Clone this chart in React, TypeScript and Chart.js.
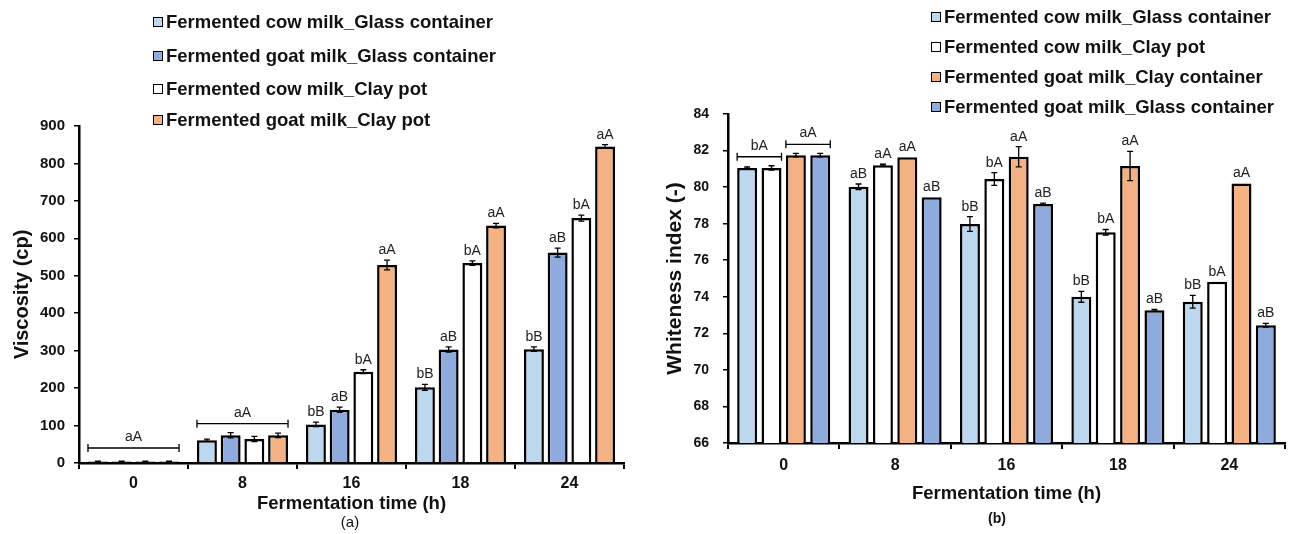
import React, { useEffect, useRef } from 'react';
import { Chart, registerables } from 'chart.js';

Chart.register(...registerables);

// ---------- Shared categories ----------
const categories = ['0', '8', '16', '18', '24'];

// ---------- Panel (a): Viscosity (cp) ----------
const viscSeriesNames = [
  'Fermented cow milk_Glass container',
  'Fermented goat milk_Glass container',
  'Fermented cow milk_Clay pot',
  'Fermented goat milk_Clay pot',
];
const viscCowGlass = [4, 61, 103, 202, 304];
const viscGoatGlass = [4, 74, 142, 303, 562];
const viscCowClay = [4, 64, 244, 534, 654];
const viscGoatClay = [4, 74, 529, 634, 845];

const viscCowGlassErr = [1, 3, 6, 8, 6];
const viscGoatGlassErr = [1, 7, 7, 7, 12];
const viscCowClayErr = [1, 7, 5, 6, 8];
const viscGoatClayErr = [1, 6, 13, 6, 5];

const viscCowGlassLbl = [null, null, 'bB', 'bB', 'bB'];
const viscGoatGlassLbl = [null, null, 'aB', 'aB', 'aB'];
const viscCowClayLbl = [null, null, 'bA', 'bA', 'bA'];
const viscGoatClayLbl = [null, null, 'aA', 'aA', 'aA'];

const viscBrackets = [
  { cat: 0, from: 0, to: 3, label: 'aA' },
  { cat: 1, from: 0, to: 3, label: 'aA' },
];
const viscMin = 0;
const viscMax = 900;
const viscStep = 100;

// ---------- Panel (b): Whiteness index (-) ----------
const whiteSeriesNames = [
  'Fermented cow milk_Glass container',
  'Fermented cow milk_Clay pot',
  'Fermented goat milk_Clay container',
  'Fermented goat milk_Glass container',
];
const whiteCowGlass = [81.05, 80.02, 77.98, 74.0, 73.73];
const whiteCowClay = [81.05, 81.2, 80.44, 77.53, 74.82];
const whiteGoatClay = [81.75, 81.63, 81.66, 81.15, 80.2];
const whiteGoatGlass = [81.75, 79.44, 79.07, 73.26, 72.44];

const whiteCowGlassErr = [0.05, 0.15, 0.4, 0.3, 0.35];
const whiteCowClayErr = [0.12, 0.05, 0.35, 0.15, 0];
const whiteGoatClayErr = [0.1, 0, 0.55, 0.8, 0];
const whiteGoatGlassErr = [0.1, 0, 0.05, 0.05, 0.1];

const whiteCowGlassLbl = [null, 'aB', 'bB', 'bB', 'bB'];
const whiteCowClayLbl = [null, 'aA', 'bA', 'bA', 'bA'];
const whiteGoatClayLbl = [null, 'aA', 'aA', 'aA', 'aA'];
const whiteGoatGlassLbl = [null, 'aB', 'aB', 'aB', 'aB'];

const whiteBrackets = [
  { cat: 0, from: 0, to: 1, label: 'bA' },
  { cat: 0, from: 2, to: 3, label: 'aA' },
];
const whiteMin = 66;
const whiteMax = 84;
const whiteStep = 2;

// ---------- Styles ----------
const FONT = "'Liberation Sans', Arial, Helvetica, sans-serif";
const LIGHT_BLUE = '#BDD7EE';
const DARK_BLUE = '#8FAADC';
const WHITE = '#FFFFFF';
const ORANGE = '#F4B183';

type Bracket = { cat: number; from: number; to: number; label: string };

function makeAnnotPlugin(errs: number[][], labels: (string | null)[][], brackets: Bracket[]) {
  return {
    id: 'errAnnot',
    afterDatasetsDraw(chart: any) {
      const ctx = chart.ctx;
      const y = chart.scales.y;
      ctx.save();
      ctx.strokeStyle = '#000';
      ctx.fillStyle = '#222';
      ctx.lineWidth = 1.3;
      ctx.font = `14px ${FONT}`;
      ctx.textAlign = 'center';
      ctx.textBaseline = 'bottom';
      chart.data.datasets.forEach((ds: any, i: number) => {
        const meta = chart.getDatasetMeta(i);
        meta.data.forEach((bar: any, j: number) => {
          const v = ds.data[j];
          const e = errs[i][j];
          if (e > 0) {
            const yt = y.getPixelForValue(v + e);
            const yb = y.getPixelForValue(v - e);
            ctx.beginPath();
            ctx.moveTo(bar.x, yt);
            ctx.lineTo(bar.x, yb);
            ctx.moveTo(bar.x - 3, yt);
            ctx.lineTo(bar.x + 3, yt);
            ctx.moveTo(bar.x - 3, yb);
            ctx.lineTo(bar.x + 3, yb);
            ctx.stroke();
          }
          const lbl = labels[i][j];
          if (lbl) {
            const top = y.getPixelForValue(v + e);
            ctx.fillText(lbl, bar.x, top - 3);
          }
        });
      });
      brackets.forEach((b) => {
        const b0 = chart.getDatasetMeta(b.from).data[b.cat];
        const b1 = chart.getDatasetMeta(b.to).data[b.cat];
        const x0 = b0.x - b0.width / 2;
        const x1 = b1.x + b1.width / 2;
        let top = Infinity;
        for (let k = b.from; k <= b.to; k++) {
          const v = chart.data.datasets[k].data[b.cat] + errs[k][b.cat];
          top = Math.min(top, y.getPixelForValue(v));
        }
        const yb = Math.min(top - 9, y.bottom - 15);
        ctx.beginPath();
        ctx.moveTo(x0, yb);
        ctx.lineTo(x1, yb);
        ctx.moveTo(x0, yb - 4);
        ctx.lineTo(x0, yb + 4);
        ctx.moveTo(x1, yb - 4);
        ctx.lineTo(x1, yb + 4);
        ctx.stroke();
        ctx.fillText(b.label, (x0 + x1) / 2, yb - 4);
      });
      ctx.restore();
    },
  };
}

type PanelProps = {
  width: number;
  names: string[];
  series: number[][];
  colors: string[];
  errs: number[][];
  labels: (string | null)[][];
  brackets: Bracket[];
  min: number;
  max: number;
  step: number;
  yTitle: string;
  yAxisWidth: number;
  padTop: number;
  padRight: number;
  xAxisHeight: number;
  xTickPad: number;
  xTitlePadBottom: number;
  yTitleSize: number;
  yTitlePadTop: number;
  yTickSize: number;
  yTickPad: number;
  catPct: number;
  barPct: number;
};

function Panel(p: PanelProps) {
  const ref = useRef<HTMLCanvasElement | null>(null);
  useEffect(() => {
    if (!ref.current) return;
    const chart = new Chart(ref.current, {
      type: 'bar',
      data: {
        labels: categories,
        datasets: p.series.map((d, i) => ({
          label: p.names[i],
          data: d,
          backgroundColor: p.colors[i],
          borderColor: '#000',
          borderWidth: 2.5,
          categoryPercentage: p.catPct,
          barPercentage: p.barPct,
        })),
      },
      options: {
        animation: false,
        responsive: false,
        layout: { padding: { left: 0, right: p.padRight, top: p.padTop, bottom: 0 } },
        plugins: { legend: { display: false }, tooltip: { enabled: false } },
        scales: {
          x: {
            grid: { display: true, drawOnChartArea: false, drawTicks: true, tickLength: 6, color: '#000', lineWidth: 2 },
            border: { display: true, color: '#000', width: 2.5 },
            ticks: { color: '#111', font: { family: FONT, size: 16, weight: 'bold' }, padding: p.xTickPad },
            title: {
              display: true,
              text: 'Fermentation time (h)',
              color: '#111',
              font: { family: FONT, size: 18.5, weight: 'bold' },
              padding: { top: 0, bottom: p.xTitlePadBottom },
            },
            afterFit: (s: any) => { s.height = p.xAxisHeight; },
          },
          y: {
            min: p.min,
            max: p.max,
            grid: { display: true, drawOnChartArea: false, drawTicks: true, tickLength: 5, color: '#000', lineWidth: 1.5 },
            border: { display: true, color: '#000', width: 2.5 },
            ticks: { stepSize: p.step, color: '#111', font: { family: FONT, size: p.yTickSize, weight: 'bold' }, padding: p.yTickPad },
            title: {
              display: true,
              text: p.yTitle,
              color: '#111',
              font: { family: FONT, size: p.yTitleSize, weight: 'bold' },
              padding: { top: p.yTitlePadTop, bottom: 0 },
            },
            afterFit: (s: any) => { s.width = p.yAxisWidth; },
          },
        },
      } as any,
      plugins: [makeAnnotPlugin(p.errs, p.labels, p.brackets)],
    });
    return () => chart.destroy();
  }, []);
  return <canvas ref={ref} width={p.width} height={534} style={{ display: 'block' }} />;
}

function Legend({ names, colors, left, tops, size }: { names: string[]; colors: string[]; left: number; tops: number[]; size: number }) {
  return (
    <>
      {names.map((n, i) => (
        <div
          key={n}
          style={{
            position: 'absolute',
            left,
            top: tops[i],
            height: 24,
            display: 'flex',
            alignItems: 'center',
            fontFamily: FONT,
            fontWeight: 'bold',
            fontSize: size,
            color: '#111',
            whiteSpace: 'nowrap',
          }}
        >
          <span
            style={{
              display: 'inline-block',
              width: 8,
              height: 8,
              border: '1.5px solid #000',
              background: colors[i],
              marginRight: 3,
            }}
          />
          <span>{n}</span>
        </div>
      ))}
    </>
  );
}

export default function App() {
  const viscColors = [LIGHT_BLUE, DARK_BLUE, WHITE, ORANGE];
  const whiteColors = [LIGHT_BLUE, WHITE, ORANGE, DARK_BLUE];
  return (
    <div style={{ position: 'absolute', left: 0, top: 0, width: 1289, height: 534, background: '#fff', overflow: 'hidden' }}>
      <div style={{ position: 'absolute', left: 0, top: 0, width: 640, height: 534 }}>
        <Panel
          width={640}
          names={viscSeriesNames}
          series={[viscCowGlass, viscGoatGlass, viscCowClay, viscGoatClay]}
          colors={viscColors}
          errs={[viscCowGlassErr, viscGoatGlassErr, viscCowClayErr, viscGoatClayErr]}
          labels={[viscCowGlassLbl, viscGoatGlassLbl, viscCowClayLbl, viscGoatClayLbl]}
          brackets={viscBrackets}
          min={viscMin}
          max={viscMax}
          step={viscStep}
          yTitle="Viscosity (cp)"
          yAxisWidth={79}
          padTop={126}
          padRight={16}
          xAxisHeight={71}
          xTickPad={5}
          xTitlePadBottom={19}
          yTitleSize={20}
          yTitlePadTop={10}
          yTickSize={15}
          yTickPad={9}
          catPct={0.87}
          barPct={0.84}
        />
      </div>
      <div style={{ position: 'absolute', left: 640, top: 0, width: 649, height: 534 }}>
        <Panel
          width={649}
          names={whiteSeriesNames}
          series={[whiteCowGlass, whiteCowClay, whiteGoatClay, whiteGoatGlass]}
          colors={whiteColors}
          errs={[whiteCowGlassErr, whiteCowClayErr, whiteGoatClayErr, whiteGoatGlassErr]}
          labels={[whiteCowGlassLbl, whiteCowClayLbl, whiteGoatClayLbl, whiteGoatGlassLbl]}
          brackets={whiteBrackets}
          min={whiteMin}
          max={whiteMax}
          step={whiteStep}
          yTitle="Whiteness index (-)"
          yAxisWidth={88}
          padTop={114}
          padRight={4}
          xAxisHeight={91}
          xTickPad={7}
          xTitlePadBottom={29}
          yTitleSize={21}
          yTitlePadTop={23}
          yTickSize={14}
          yTickPad={14}
          catPct={0.875}
          barPct={0.82}
        />
      </div>
      <Legend names={viscSeriesNames} colors={viscColors} left={153} tops={[10, 44, 77, 108]} size={18.5} />
      <Legend names={whiteSeriesNames} colors={whiteColors} left={931} tops={[5, 35, 65, 95]} size={18.5} />
      <div style={{ position: 'absolute', left: 0, width: 640, top: 513, textAlign: 'center', fontFamily: FONT, fontSize: 15, color: '#111', lineHeight: '18px', paddingLeft: 60, boxSizing: 'border-box' }}>(a)</div>
      <div style={{ position: 'absolute', left: 640, width: 649, top: 509, textAlign: 'center', fontFamily: FONT, fontSize: 14, fontWeight: 'bold', color: '#111', lineHeight: '18px', paddingLeft: 65, boxSizing: 'border-box' }}>(b)</div>
    </div>
  );
}
